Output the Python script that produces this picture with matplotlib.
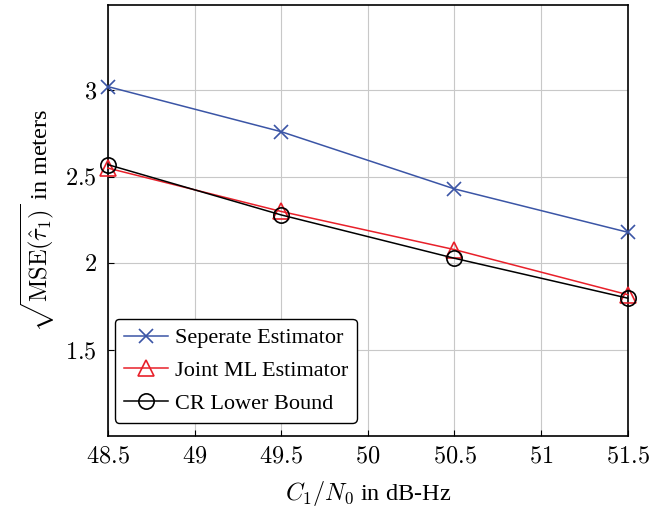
import numpy as np
import matplotlib.pyplot as plt

plt.rcParams['font.family'] = ['Liberation Serif', 'DejaVu Serif']
plt.rcParams['mathtext.fontset'] = 'cm'

cn0 = [48.5, 49.5, 50.5, 51.5]
separate = [3.02, 2.76, 2.43, 2.18]
joint_ml = [2.55, 2.30, 2.08, 1.82]
cr_bound = [2.57, 2.28, 2.03, 1.80]

xticks = [48.5, 49, 49.5, 50, 50.5, 51, 51.5]
yticks = [1.5, 2, 2.5, 3]

fig = plt.figure(figsize=(6.7, 5.08), dpi=100)
ax = fig.add_axes([0.161, 0.142, 0.776, 0.848])

ax.plot(cn0, separate, color='#3b55a6', lw=1.1, marker='x', ms=10, mew=1.2,
        clip_on=False, zorder=3, label='Seperate Estimator')
ax.plot(cn0, joint_ml, color='#e8202a', lw=1.1, marker='^', ms=11, mfc='none',
        mew=1.2, clip_on=False, zorder=3, label='Joint ML Estimator')
ax.plot(cn0, cr_bound, color='black', lw=1.1, marker='o', ms=11, mfc='none',
        mew=1.2, clip_on=False, zorder=3, label='CR Lower Bound')

ax.set_xlim(48.5, 51.5)
ax.set_ylim(1.006, 3.49)
ax.set_xticks(xticks)
ax.set_xticklabels([f'${t:g}$' for t in xticks])
ax.set_yticks(yticks)
ax.set_yticklabels([f'${t:g}$' for t in yticks])
ax.tick_params(direction='in', labelsize=17.5, length=4, width=0.8, pad=8)
ax.grid(True, color='#c8c8c8', lw=0.8)
for s in ax.spines.values():
    s.set_linewidth(1.2)

ax.set_xlabel(r'$C_1/N_0$ in dB-Hz', fontsize=17.5, labelpad=8)
ax.set_ylabel(r'$\sqrt{\mathrm{MSE}(\hat{\tau}_1)}$ in meters', fontsize=17.5, labelpad=6)

leg = ax.legend(loc='lower left', bbox_to_anchor=(0.013, 0.03), borderaxespad=0,
                fontsize=16, frameon=True, fancybox=True, edgecolor='black',
                framealpha=1, handlelength=2.0, handletextpad=0.3,
                borderpad=0.4, labelspacing=0.55)
leg.get_frame().set_linewidth(1.0)

fig.savefig('out.png', dpi=100)
